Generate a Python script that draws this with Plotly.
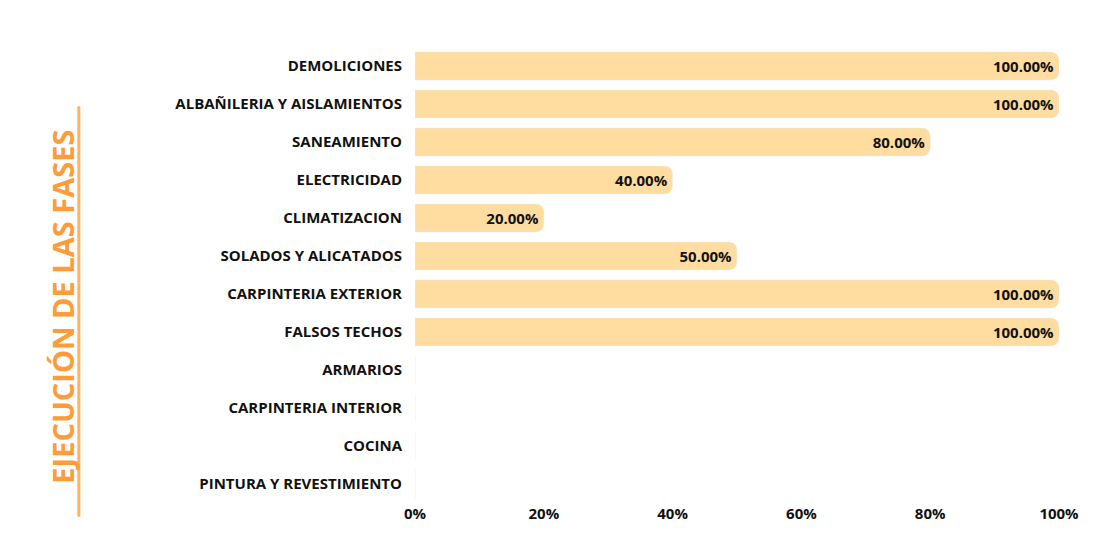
import plotly.graph_objects as go

categories = ["DEMOLICIONES","ALBAÑILERIA Y AISLAMIENTOS","SANEAMIENTO","ELECTRICIDAD",
              "CLIMATIZACION","SOLADOS Y ALICATADOS","CARPINTERIA EXTERIOR","FALSOS TECHOS",
              "ARMARIOS","CARPINTERIA INTERIOR","COCINA","PINTURA Y REVESTIMIENTO"]
values = [100, 100, 80, 40, 20, 50, 100, 100, 0, 0, 0, 0]
tick_vals = [0, 20, 40, 60, 80, 100]
tick_text = ["0%", "20%", "40%", "60%", "80%", "100%"]

labels = [f"{v:.2f}%" if v > 0 else "" for v in values]

fig = go.Figure(go.Bar(
    y=categories, x=values, orientation="h",
    marker=dict(color="#FFDDA1", cornerradius=8),
    text=labels, textposition="inside", insidetextanchor="end",
    textfont=dict(family="Open Sans", size=15, color="#111", weight="bold"),
    cliponaxis=False,
))
fig.update_layout(
    width=1100, height=550, plot_bgcolor="white", paper_bgcolor="white",
    margin=dict(l=407, r=49, t=39, b=55, autoexpand=False), bargap=0.26, showlegend=False,
    font=dict(family="Open Sans", size=15, color="#111"),
)
fig.update_yaxes(autorange="reversed", showgrid=False, ticks="", ticklabelstandoff=12, automargin=False,
                 tickfont=dict(family="Open Sans", size=15, color="#111", weight="bold"))
fig.update_xaxes(range=[0, 100], tickvals=tick_vals, ticktext=tick_text, showgrid=False, automargin=False,
                 zeroline=False, tickfont=dict(family="Open Sans", size=15, color="#111", weight="bold"))
fig.add_annotation(text="<b>EJECUCIÓN DE LAS FASES</b>", textangle=-90, xref="paper", yref="paper",
                   x=-0.547, y=0.43, showarrow=False, xanchor="center", yanchor="middle",
                   font=dict(family="Open Sans", size=29, color="#FF9C3A"))
fig.add_shape(type="line", xref="paper", yref="paper", x0=-0.522, x1=-0.522, y0=-0.03, y1=0.87,
              line=dict(color="#FFB45A", width=3))
fig.write_html("out.html")
